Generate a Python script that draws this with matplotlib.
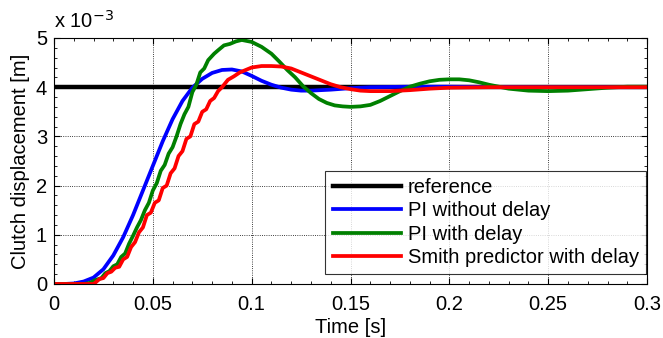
import matplotlib.pyplot as plt
from matplotlib.ticker import MultipleLocator

# values in units of 1e-3 m
t_ref = [0.0, 0.3]
y_ref = [4.0, 4.0]

t_pi = [0.0, 0.005, 0.01, 0.015, 0.02, 0.025, 0.03, 0.035, 0.04, 0.045, 0.05,
        0.055, 0.06, 0.065, 0.07, 0.075, 0.08, 0.085, 0.09, 0.095, 0.1, 0.105,
        0.11, 0.115, 0.12, 0.125, 0.13, 0.14, 0.15, 0.16, 0.18, 0.2, 0.25, 0.3]
y_pi = [0.0, 0.0, 0.01, 0.05, 0.13, 0.3, 0.58, 0.95, 1.4, 1.9, 2.4,
        2.9, 3.35, 3.72, 3.99, 4.17, 4.29, 4.35, 4.36, 4.32, 4.23, 4.13,
        4.05, 3.99, 3.95, 3.93, 3.93, 3.95, 3.98, 4.0, 4.01, 4.01, 4.0, 4.0]

t_pid = [0.0, 0.015, 0.018, 0.021, 0.024, 0.026, 0.028, 0.030, 0.032, 0.034,
         0.036, 0.038, 0.040, 0.042, 0.044, 0.046, 0.048, 0.050, 0.052, 0.054,
         0.056, 0.058, 0.060, 0.062, 0.064, 0.066, 0.068, 0.070, 0.072, 0.074,
         0.076, 0.078, 0.081, 0.083, 0.086, 0.089, 0.092, 0.095, 0.100, 0.105,
         0.110, 0.114, 0.118, 0.122, 0.126, 0.130, 0.134, 0.138, 0.142, 0.146,
         0.150, 0.155, 0.160, 0.165, 0.170, 0.175, 0.180, 0.185, 0.190, 0.195,
         0.200, 0.205, 0.210, 0.215, 0.220, 0.225, 0.230, 0.240, 0.250, 0.260,
         0.270, 0.280, 0.290, 0.300]
y_pid = [0.0, 0.0, 0.02, 0.08, 0.12, 0.22, 0.26, 0.36, 0.40, 0.55,
         0.62, 0.82, 0.98, 1.15, 1.3, 1.5, 1.65, 1.9, 2.05, 2.3,
         2.42, 2.65, 2.78, 3.0, 3.25, 3.45, 3.6, 3.9, 4.05, 4.3,
         4.38, 4.55, 4.68, 4.75, 4.85, 4.88, 4.93, 4.96, 4.92, 4.82,
         4.68, 4.52, 4.35, 4.2, 4.02, 3.88, 3.76, 3.68, 3.63, 3.61,
         3.6, 3.61, 3.64, 3.72, 3.82, 3.92, 4.01, 4.07, 4.12, 4.15,
         4.16, 4.16, 4.14, 4.1, 4.05, 4.01, 3.97, 3.93, 3.92, 3.93,
         3.96, 3.99, 4.01, 4.01]

t_smith = [0.0, 0.020, 0.021, 0.023, 0.025, 0.027, 0.029, 0.031, 0.033, 0.035,
           0.037, 0.039, 0.041, 0.043, 0.045, 0.047, 0.049, 0.051, 0.053, 0.055,
           0.057, 0.059, 0.061, 0.063, 0.065, 0.067, 0.069, 0.071, 0.073, 0.075,
           0.077, 0.079, 0.081, 0.083, 0.085, 0.088, 0.091, 0.094, 0.097, 0.100,
           0.105, 0.110, 0.115, 0.120, 0.125, 0.130, 0.135, 0.140, 0.145, 0.150,
           0.155, 0.160, 0.170, 0.180, 0.190, 0.200, 0.220, 0.300]
y_smith = [0.0, 0.0, 0.03, 0.10, 0.12, 0.22, 0.25, 0.33, 0.35, 0.50,
           0.55, 0.75, 0.85, 1.05, 1.15, 1.4, 1.45, 1.65, 1.7, 1.95,
           2.0, 2.25, 2.35, 2.6, 2.7, 2.95, 3.0, 3.25, 3.3, 3.5,
           3.55, 3.72, 3.78, 3.92, 4.0, 4.15, 4.22, 4.3, 4.35, 4.4,
           4.43, 4.43, 4.42, 4.38, 4.3, 4.22, 4.14, 4.06, 4.0, 3.96,
           3.93, 3.92, 3.92, 3.94, 3.97, 3.99, 4.0, 4.0]

labels = ["reference", "PI without delay", "PI with delay", "Smith predictor with delay"]

plt.rcParams['font.family'] = ['Liberation Sans', 'DejaVu Sans']
plt.rcParams['font.size'] = 14.5

fig = plt.figure(figsize=(6.63, 3.38), dpi=100)
ax = fig.add_axes([0.0814, 0.1598, 0.8946, 0.7278])

ax.plot(t_ref, y_ref, color='k', lw=3.2, label=labels[0])
ax.plot(t_pi, y_pi, color=(0, 0, 1), lw=2.7, label=labels[1])
ax.plot(t_pid, y_pid, color=(0, 0.5, 0), lw=2.7, label=labels[2])
ax.plot(t_smith, y_smith, color=(1, 0, 0), lw=2.7, label=labels[3])

ax.set_xlim(0, 0.3)
ax.set_ylim(0, 5)
ax.set_xticks([0, 0.05, 0.1, 0.15, 0.2, 0.25, 0.3])
ax.set_xticklabels(["0", "0.05", "0.1", "0.15", "0.2", "0.25", "0.3"])
ax.set_yticks([0, 1, 2, 3, 4, 5])
ax.xaxis.set_minor_locator(MultipleLocator(0.01))
ax.yaxis.set_minor_locator(MultipleLocator(0.2))
ax.tick_params(which='both', direction='in', top=True, right=True)
ax.tick_params(which='major', length=4, width=0.8, pad=5)
ax.tick_params(axis='x', which='major', pad=8)
ax.tick_params(which='minor', length=2, width=0.6)
ax.grid(True, which='major', color='k', linestyle=':', linewidth=0.6)
ax.set_axisbelow(True)

ax.set_xlabel("Time [s]", labelpad=3)
ax.set_ylabel("Clutch displacement [m]", labelpad=4)
fig.text(0.0814, 0.905, r"x 10$^{-3}$", ha='left', va='bottom', fontsize=14.5)

leg = ax.legend(loc='lower right', bbox_to_anchor=(0.9985, 0.04), fontsize=14.5,
                handlelength=3.4, frameon=True, fancybox=False, borderpad=0.35,
                labelspacing=0.22, handletextpad=0.35, borderaxespad=0.0)
leg.get_frame().set_edgecolor('k')
leg.get_frame().set_linewidth(0.8)

plt.savefig("out.png", dpi=100)
